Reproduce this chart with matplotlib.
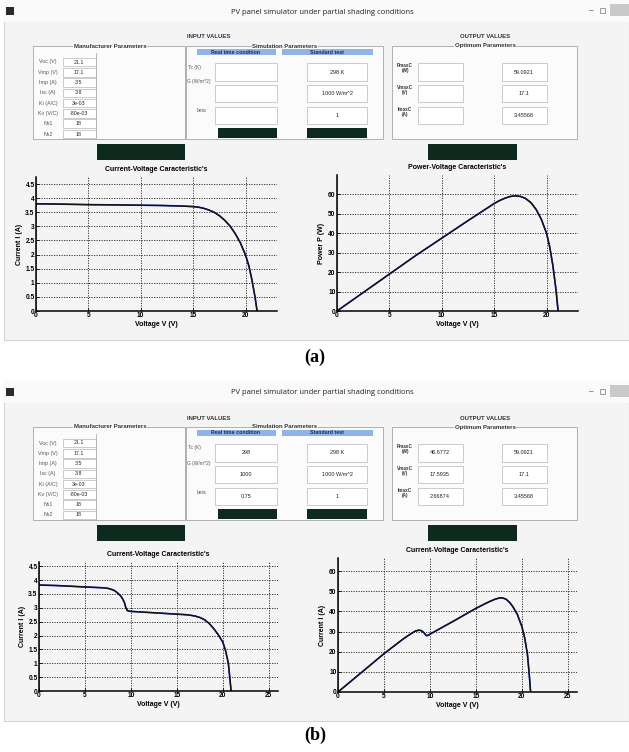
import matplotlib
matplotlib.use('Agg')
import matplotlib.pyplot as plt
from matplotlib.patches import Rectangle
import numpy as np

plt.rcParams['font.family'] = 'Liberation Sans'

W, H = 629, 752

# ---- values ----
# (a) standard test conditions
v_iv_a = [0, 2, 5, 8, 10, 12, 14, 15, 15.5, 16, 16.5, 17, 17.5, 18, 18.5, 19, 19.5, 20, 20.3, 20.6, 20.9, 21.1]
i_iv_a = [3.80, 3.79, 3.77, 3.76, 3.75, 3.74, 3.72, 3.70, 3.68, 3.64, 3.58, 3.50, 3.38, 3.22, 3.02, 2.75, 2.42,
          1.98, 1.62, 1.12, 0.50, 0.0]
v_pv_a = [0, 2.5, 5, 7.5, 10, 12.5, 15, 15.5, 16, 16.5, 17, 17.5, 18, 18.5, 19, 19.5, 20, 20.3, 20.6, 20.9, 21.1]
p_pv_a = [0, 9.5, 19, 28.5, 37.5, 46.5, 55.3, 56.8, 58.0, 58.9, 59.3, 59.0, 57.9, 55.8, 52.3, 47.2, 40.0,
          33.0, 23.5, 11.0, 0]

# (b) partial shading, beta = 0.75
v_iv_b = [0, 2, 5, 7, 7.5, 8, 8.3, 8.6, 8.9, 9.1, 9.3, 9.45, 9.6, 9.8, 10, 12, 15, 16, 16.5, 17, 17.5, 18,
          18.5, 19, 19.5, 20, 20.3, 20.6, 20.9]
i_iv_b = [3.82, 3.80, 3.75, 3.72, 3.70, 3.65, 3.60, 3.52, 3.42, 3.32, 3.18, 3.00, 2.90, 2.88, 2.87, 2.83, 2.77,
          2.75, 2.73, 2.70, 2.65, 2.57, 2.44, 2.25, 2.03, 1.76, 1.45, 1.00, 0.0]
v_pv_b = [0, 2.5, 5, 7, 7.5, 8, 8.4, 8.8, 9.1, 9.35, 9.6, 9.8, 10, 12.5, 15, 16, 16.5, 17, 17.5, 17.9, 18.3,
          18.7, 19, 19.5, 20, 20.3, 20.6, 20.8, 20.95]
p_pv_b = [0, 9.5, 19, 26.0, 27.6, 29.1, 30.2, 30.7, 30.4, 29.4, 28.0, 28.1, 28.7, 35, 41.5, 43.8, 44.9, 45.9,
          46.6, 46.7, 46.0, 44.3, 42.5, 38.6, 32.5, 27.0, 19.0, 9.0, 0]

man_labels = ['Voc (V)', 'Vmp (V)', 'Imp (A)', 'Isc (A)', 'Ki (A/C)', 'Kv (V/C)', 'Ns1', 'Ns2']
man_values = ['21.1', '17.1', '3.5', '3.8', '3e-03', '-80e-03', '18', '18']
sim_labels = ['Tc (K)', 'G (W/m^2)', 'beta']
std_values = ['298 K', '1000 W/m^2', '1']
rt_values_a = ['', '', '']
rt_values_b = ['298', '1000', '0.75']
out_labels = ['PmaxC\n(W)', 'VmaxC\n(V)', 'ImaxC\n(A)']
out_std = ['59.0921', '17.1', '3.45568']
out_rt_a = ['', '', '']
out_rt_b = ['46.6772', '17.5935', '2.66874']

fig = plt.figure(figsize=(W / 100, H / 100), dpi=100)
fig.patch.set_facecolor('white')
ov = fig.add_axes([0, 0, 1, 1], zorder=0)
ov.set_xlim(0, W)
ov.set_ylim(H, 0)
ov.axis('off')

bg = '#f4f4f4'
dark = '#0e2a1f'


def box(x0, y0, x1, y1, **kw):
    ov.add_patch(Rectangle((x0, y0), x1 - x0, y1 - y0, **kw))


def gui(dy, rt_vals, out_rt):
    box(4, dy, 629, dy + 340, fc=bg, ec='#d4d4d4', lw=0.8)
    box(4, dy, 629, dy + 22, fc='#fafafa', ec='none')
    box(6, dy + 7, 14, dy + 15, fc='#2b2b2b', ec='none')
    ov.text(322, dy + 12, 'PV panel simulator under partial shading conditions',
            ha='center', va='center', fontsize=5.5, color='#222222', family='Open Sans')
    ov.text(591, dy + 11, '–', ha='center', va='center', fontsize=6, color='#333333')
    box(600, dy + 8, 605, dy + 13, fc='none', ec='#777777', lw=0.5)
    box(610, dy + 4, 629, dy + 16, fc='#c9c9c9', ec='none')

    ov.text(209, dy + 37, 'INPUT VALUES', ha='center', va='center', fontsize=4.3, weight='bold', color='#333333')
    ov.text(485, dy + 37, 'OUTPUT VALUES', ha='center', va='center', fontsize=4.3, weight='bold', color='#333333')

    # frames
    for x0, x1, title, xc in [(33, 185, 'Manufacturer Parameters', 110),
                              (186, 383, 'Simulation Parameters', 285),
                              (392, 577, 'Optimum Parameters', 485)]:
        box(x0, dy + 46, x1, dy + 139, fc='#fbfbfb', ec='#b0b0b0', lw=0.7)
        ov.text(xc, dy + 46, title, ha='center', va='center', fontsize=4.3, weight='bold',
                color='#333333', bbox=dict(fc='#fbfbfb', ec='none', pad=0.6))

    # manufacturer parameters
    ys = np.linspace(dy + 62, dy + 134, len(man_labels))
    ov.plot([96, 96], [dy + 53, dy + 139], color='#b0b0b0', lw=0.6)
    for y, lab, val in zip(ys, man_labels, man_values):
        ov.text(48, y, lab, ha='center', va='center', fontsize=3.8, color='#555555')
        box(63, y - 4.3, 96, y + 4.3, fc='white', ec='#b8b8b8', lw=0.5)
        ov.text(79, y, val, ha='center', va='center', fontsize=3.8, color='#222222')

    # simulation parameters
    box(197, dy + 49, 276, dy + 55, fc='#8fb3ea', ec='none')
    box(282, dy + 49, 373, dy + 55, fc='#8fb3ea', ec='none')
    ov.text(236, dy + 52, 'Real time condition', ha='center', va='center', fontsize=3.8, weight='bold', color='#1a2a5a')
    ov.text(327, dy + 52, 'Standard test', ha='center', va='center', fontsize=3.8, weight='bold', color='#1a2a5a')
    rows = [(63, 81), (85, 102), (107, 124)]
    lab_y = [67, 82, 111]
    lab_x = [188, 187, 197]
    for (r0, r1), ly, lx, lab, rv, sv in zip(rows, lab_y, lab_x, sim_labels, rt_vals, std_values):
        ov.text(lx, dy + ly, lab, ha='left', va='center', fontsize=3.5, color='#555555')
        box(215, dy + r0, 277, dy + r1, fc='white', ec='#b8b8b8', lw=0.5)
        box(307, dy + r0, 367, dy + r1, fc='white', ec='#b8b8b8', lw=0.5)
        ov.text(246, dy + (r0 + r1) / 2, rv, ha='center', va='center', fontsize=4, color='#222222')
        ov.text(337, dy + (r0 + r1) / 2, sv, ha='center', va='center', fontsize=4, color='#222222')
    box(218, dy + 128, 277, dy + 138, fc=dark, ec='none')
    box(307, dy + 128, 367, dy + 138, fc=dark, ec='none')

    # optimum parameters
    for (r0, r1), lab, rv, sv in zip(rows, out_labels, out_rt, out_std):
        ov.text(405, dy + r0 + 5, lab, ha='center', va='center', fontsize=3.3, weight='bold',
                color='#333333', linespacing=1.0)
        box(418, dy + r0, 463, dy + r1, fc='white', ec='#b8b8b8', lw=0.5)
        box(502, dy + r0, 547, dy + r1, fc='white', ec='#b8b8b8', lw=0.5)
        ov.text(440, dy + (r0 + r1) / 2, rv, ha='center', va='center', fontsize=4, color='#222222')
        ov.text(524, dy + (r0 + r1) / 2, sv, ha='center', va='center', fontsize=4, color='#222222')

    box(97, dy + 144, 185, dy + 160, fc=dark, ec='none')
    box(428, dy + 144, 517, dy + 160, fc=dark, ec='none')


def plot_panel(px, v, y, xmax, ymax, yticks, title, ylabel):
    x0, y0, x1, y1 = px
    ax = fig.add_axes([x0 / W, 1 - y1 / H, (x1 - x0) / W, (y1 - y0) / H], zorder=2)
    ax.set_facecolor('none')
    ax.plot(v, y, color='#2233cc', lw=1.2, solid_capstyle='round')
    ax.plot(v, y, color='#111111', lw=1.0)
    ax.set_xlim(0, xmax)
    ax.set_ylim(0, ymax)
    ax.set_xticks(np.arange(0, xmax, 5))
    ax.set_yticks(yticks)
    ax.set_yticklabels([f'{t:g}' for t in yticks])
    ax.grid(True, color='#222222', ls=(0, (1.5, 1.5)), lw=0.6)
    for s in ['top', 'right']:
        ax.spines[s].set_visible(False)
    for s in ['left', 'bottom']:
        ax.spines[s].set_linewidth(1.1)
    ax.tick_params(direction='in', length=2, width=0.6, labelsize=4.8, pad=1)
    for lab in ax.get_xticklabels() + ax.get_yticklabels():
        lab.set_fontweight('bold')
    ax.set_title(title, fontsize=5, weight='bold', pad=4)
    ax.set_xlabel('Voltage V (V)', fontsize=5, weight='bold', labelpad=1)
    ax.set_ylabel(ylabel, fontsize=5, weight='bold', labelpad=2)
    return ax


# panel (a)
gui(0, rt_values_a, out_rt_a)
plot_panel((36, 177, 277, 311), v_iv_a, i_iv_a, 23, 4.75, np.arange(0, 4.6, 0.5),
           "Current-Voltage Caracteristic's", 'Current I (A)')
plot_panel((337, 175, 578, 311), v_pv_a, p_pv_a, 23, 70, np.arange(0, 61, 10),
           "Power-Voltage Caracteristic's", 'Power P (W)')
ov.text(315, 357, '(a)', ha='center', va='center', fontsize=13, weight='bold', family='Liberation Serif')

# panel (b)
gui(381, rt_values_b, out_rt_b)
plot_panel((39, 562, 278, 691), v_iv_b, i_iv_b, 26, 4.65, np.arange(0, 4.6, 0.5),
           "Current-Voltage Caracteristic's", 'Current I (A)')
plot_panel((338, 558, 577, 692), v_pv_b, p_pv_b, 26, 66.5, np.arange(0, 61, 10),
           "Current-Voltage Caracteristic's", 'Current I (A)')
ov.text(315, 735, '(b)', ha='center', va='center', fontsize=13, weight='bold', family='Liberation Serif')

fig.savefig('out.png', dpi=100)
